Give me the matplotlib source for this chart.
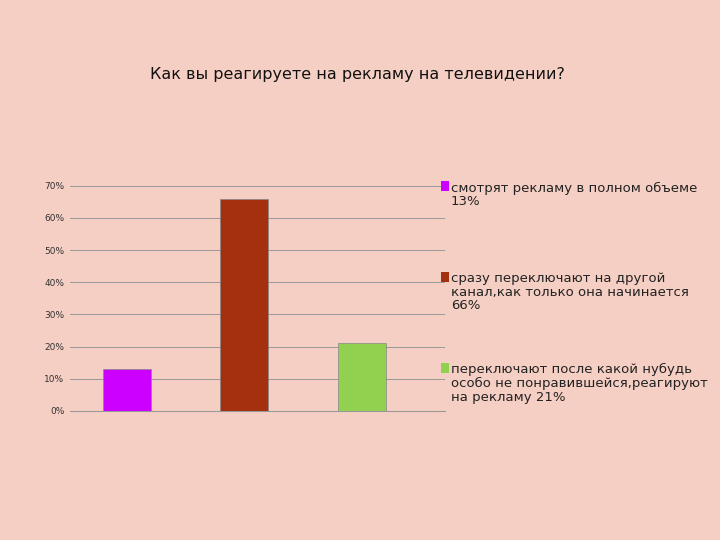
import matplotlib
matplotlib.use("Agg")
import matplotlib.pyplot as plt
from matplotlib.patches import Rectangle

categories = ["смотрят рекламу в полном объеме\n13%",
              "сразу переключают на другой\nканал,как только она начинается\n66%",
              "переключают после какой нубудь\nособо не понравившейся,реагируют\nна рекламу 21%"]
values = [13, 66, 21]
colors = ["#CC00FF", "#A5300F", "#92D050"]
yticks = [0, 10, 20, 30, 40, 50, 60, 70]
bg = "#F6CFC4"

fig = plt.figure(figsize=(7.2, 5.4), dpi=100, facecolor=bg)
ax = fig.add_axes([0.097, 0.239, 0.521, 0.417], facecolor=bg)
x = list(range(len(values)))
ax.bar(x, values, width=0.41, color=colors, edgecolor="#888888", linewidth=0.5, zorder=3)
ax.set_xlim(-0.485, 2.707)
ax.set_ylim(0, 70)
ax.set_yticks(yticks)
ax.set_yticklabels([f"{v}%" for v in yticks], fontsize=6.5, color="#333333")
ax.set_xticks([])
ax.grid(axis="y", color="#999999", linewidth=0.7, zorder=0)
for s in ["top", "right", "left"]:
    ax.spines[s].set_visible(False)
ax.spines["bottom"].set_color("#999999")
ax.tick_params(axis="y", length=0, pad=4)

fig.text(0.496, 0.862, "Как вы реагируете на рекламу на телевидении?", ha="center", va="center",
         fontsize=11.5, color="#111111")

ys = [0.655, 0.487, 0.318]
for lbl, c, yy in zip(categories, colors, ys):
    fig.patches.append(Rectangle((0.612, yy - 0.009), 0.012, 0.018, transform=fig.transFigure,
                                 facecolor=c, edgecolor="none"))
    fig.text(0.626, yy + 0.009, lbl, ha="left", va="top", fontsize=9.5, color="#222222",
             linespacing=1.05)

fig.savefig("out.png", dpi=100, facecolor=bg)
